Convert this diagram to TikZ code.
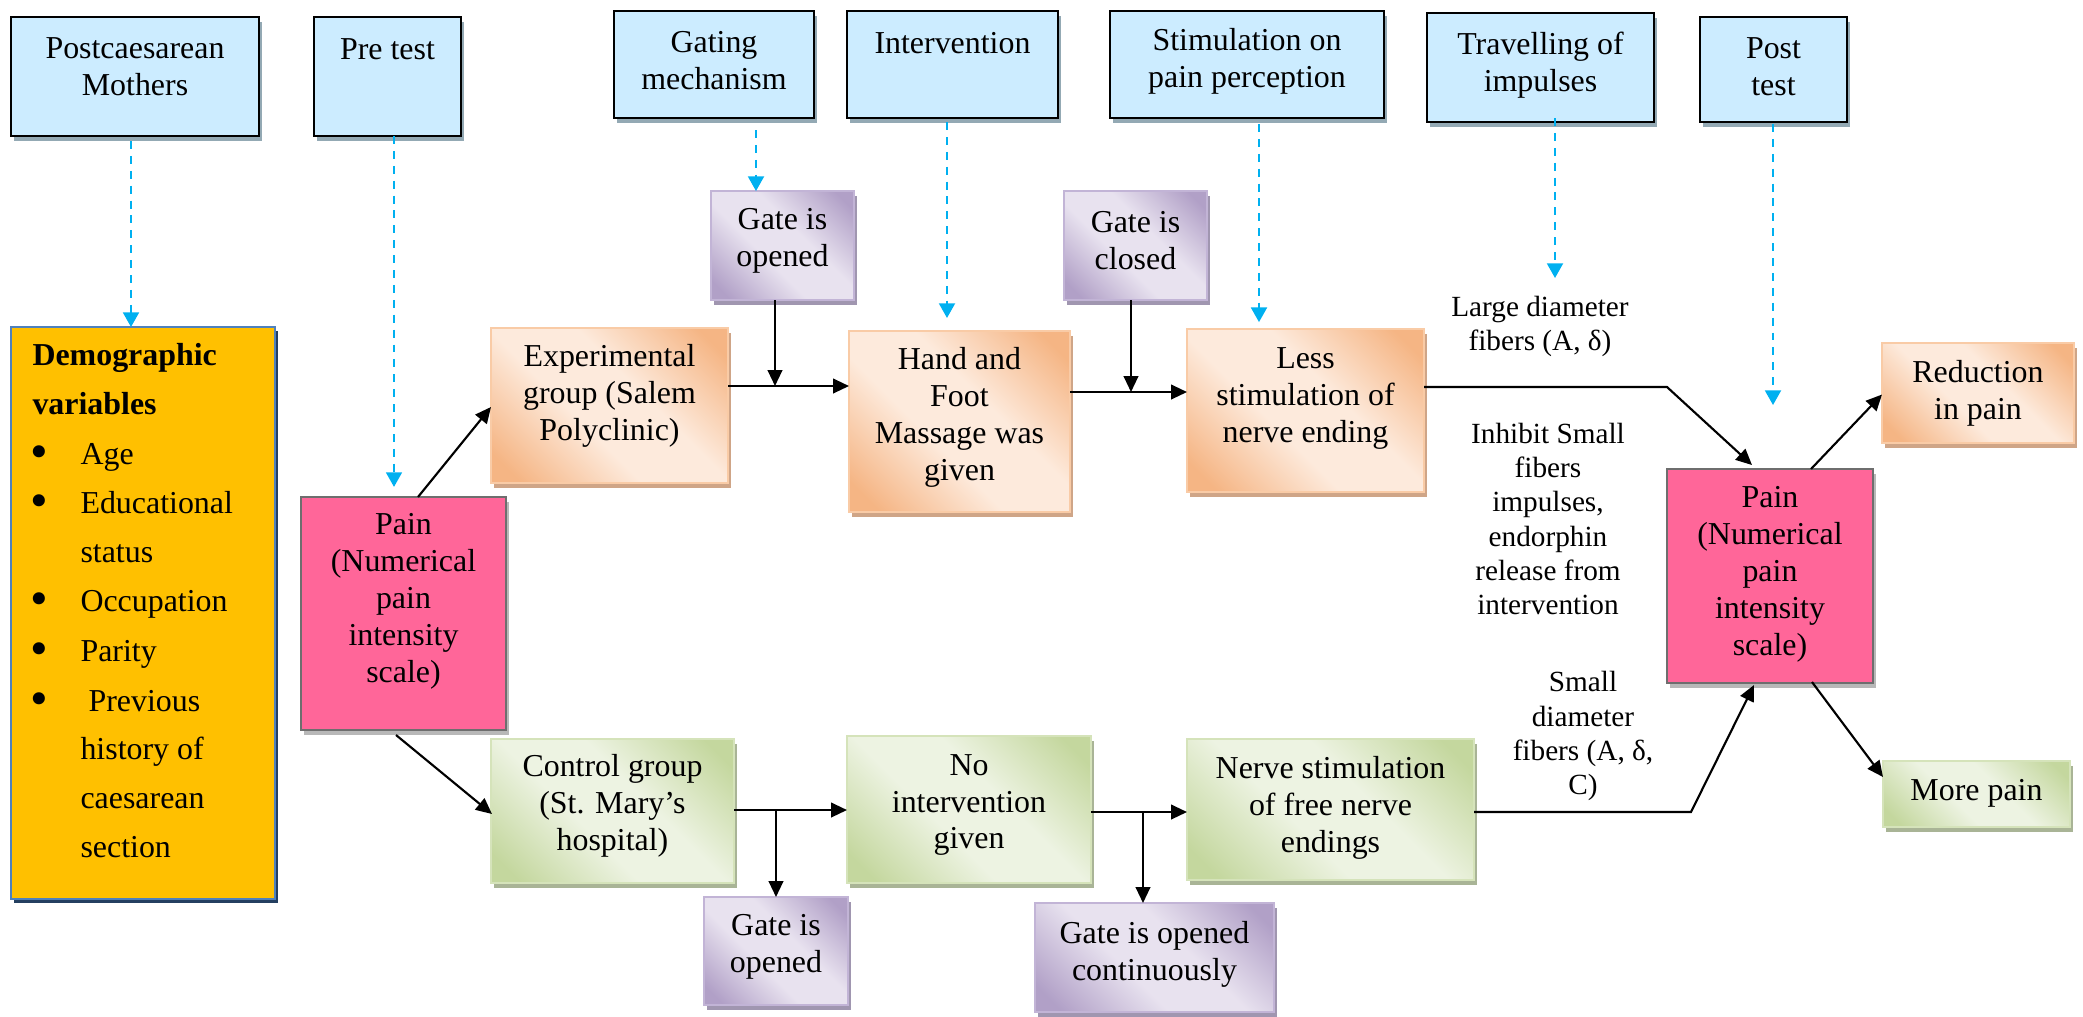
\documentclass[tikz,border=0pt]{standalone}
\usepackage{fontspec}
\setmainfont{Liberation Serif}
\usetikzlibrary{arrows.meta,shadows,calc}

\definecolor{bluefill}{HTML}{CCECFF}
\definecolor{blueshadow}{HTML}{93A9B4}
\definecolor{orD}{HTML}{F5B584}
\definecolor{orL}{HTML}{FDEADC}
\definecolor{orB}{HTML}{F9CBA6}
\definecolor{orS}{HTML}{CFA587}
\definecolor{grD}{HTML}{C4D79E}
\definecolor{grL}{HTML}{EDF3E2}
\definecolor{grB}{HTML}{D5E3BA}
\definecolor{grS}{HTML}{A9B496}
\definecolor{puD}{HTML}{B1A0C7}
\definecolor{puL}{HTML}{E8E2EF}
\definecolor{puB}{HTML}{C2B4D6}
\definecolor{puS}{HTML}{A096B0}
\definecolor{pinkF}{HTML}{FF6699}
\definecolor{pinkB}{HTML}{6E6E6E}
\definecolor{pinkS}{HTML}{B8B8B8}
\definecolor{demoF}{HTML}{FFC000}
\definecolor{demoB}{HTML}{4F81BD}
\definecolor{demoS}{HTML}{243F60}
\definecolor{dashblue}{HTML}{00B0F0}

\pgfdeclarehorizontalshading{orsh}{100bp}{color(0bp)=(orD); color(20bp)=(orD); color(42bp)=(orL); color(58bp)=(orL); color(80bp)=(orD); color(100bp)=(orD)}
\pgfdeclarehorizontalshading{grsh}{100bp}{color(0bp)=(grD); color(20bp)=(grD); color(42bp)=(grL); color(58bp)=(grL); color(80bp)=(grD); color(100bp)=(grD)}
\pgfdeclarehorizontalshading{push}{100bp}{color(0bp)=(puD); color(20bp)=(puD); color(42bp)=(puL); color(58bp)=(puL); color(80bp)=(puD); color(100bp)=(puD)}

\newcommand\mkbox[8]{%
  \pgfmathsetmacro\bxc{(#3+#5)/2}%
  \pgfmathsetmacro\byc{(#4+#6)/2}%
  \pgfmathsetmacro\bw{(#5-#3)*0.376}%
  \pgfmathsetmacro\bh{(#6-#4)*0.376}%
  \node[#2, minimum width=\bw pt, minimum height=\bh pt] (#1) at (\bxc,\byc) {};%
  \node[txt] (#1-t) at (\bxc,#7) {#8};}

\tikzset{
  base/.style={rectangle, inner sep=0pt, outer sep=0pt},
  bluebox/.style={base, draw=black, line width=1.1pt, fill=bluefill,
    general shadow={fill=blueshadow, shadow xshift=1.3pt, shadow yshift=-1.9pt}},
  orbox/.style={base, draw=orB, line width=0.8pt, shade, shading=orsh, shading angle=45,
    general shadow={fill=orS, shadow xshift=1.2pt, shadow yshift=-1.8pt}},
  grbox/.style={base, draw=grB, line width=0.8pt, shade, shading=grsh, shading angle=45,
    general shadow={fill=grS, shadow xshift=1.2pt, shadow yshift=-1.8pt}},
  pubox/.style={base, draw=puB, line width=0.8pt, shade, shading=push, shading angle=45,
    general shadow={fill=puS, shadow xshift=1.2pt, shadow yshift=-1.8pt}},
  pkbox/.style={base, draw=pinkB, line width=0.9pt, fill=pinkF,
    general shadow={fill=pinkS, shadow xshift=1.2pt, shadow yshift=-1.8pt}},
  demobox/.style={base, draw=demoB, line width=0.9pt, fill=demoF,
    general shadow={fill=demoS, shadow xshift=1.2pt, shadow yshift=-1.6pt}},
  txt/.style={align=center, font=\fontsize{12}{13.9}\selectfont, inner sep=0pt},
  lbl/.style={align=center, font=\fontsize{11}{12.8}\selectfont, inner sep=0pt},
  dtxt/.style={font=\fontsize{12}{14}\selectfont, inner sep=0pt, anchor=base west},
  dbul/.style={font=\fontsize{19}{20}\selectfont, inner sep=0pt, anchor=center},
  arr/.style={-{Triangle[length=6pt,width=5.5pt]}, line width=0.8pt, black},
  darr/.style={-{Triangle[length=5.5pt,width=6pt]}, line width=0.75pt, dashblue,
    dash pattern=on 3pt off 2.6pt},
}

\begin{document}
\begin{tikzpicture}[x=0.376pt, y=-0.376pt]
\useasboundingbox (0,0) rectangle (2083,1016);

% top row
\mkbox{pm}{bluebox}{11}{17}{259}{136}{66.5}{Postcaesarean\\Mothers}
\mkbox{pre}{bluebox}{314}{17}{461}{136}{49}{Pre test}
\mkbox{gat}{bluebox}{614}{11}{814}{118}{61}{Gating\\mechanism}
\mkbox{intv}{bluebox}{847}{11}{1058}{118}{43}{Intervention}
\mkbox{stim}{bluebox}{1110}{11}{1384}{118}{61}{Stimulation on\\pain perception}
\mkbox{trav}{bluebox}{1427}{13}{1654}{122}{65}{Travelling of\\impulses}
\mkbox{post}{bluebox}{1700}{17}{1847}{122}{67}{Post\\test}

% purple
\mkbox{g1}{pubox}{711}{191}{854}{300}{241}{Gate is\\opened}
\mkbox{g2}{pubox}{1064}{191}{1207}{300}{241}{Gate is\\closed}
\mkbox{g3}{pubox}{704}{897}{848}{1005}{947}{Gate is\\opened}
\mkbox{g4}{pubox}{1035}{903}{1274}{1012}{954}{Gate is opened\\continuously}

% orange
\mkbox{exp}{orbox}{491}{328}{728}{483}{395.5}{Experimental\\group (Salem\\Polyclinic)}
\mkbox{hand}{orbox}{849}{331}{1070}{512}{417.5}{Hand and\\Foot\\Massage was\\given}
\mkbox{less}{orbox}{1187}{329}{1424}{492}{398.5}{Less\\stimulation of\\nerve ending}
\mkbox{red}{orbox}{1882}{343}{2074}{443}{393.5}{Reduction\\in pain}

% pink
\mkbox{pl}{pkbox}{301}{497}{506}{730}{601.5}{Pain\\(Numerical\\pain\\intensity\\scale)}
\mkbox{pr}{pkbox}{1667}{469}{1873}{683}{574}{Pain\\(Numerical\\pain\\intensity\\scale)}

% green
\mkbox{ctl}{grbox}{491}{739}{734}{883}{806}{Control group\\(St. Mary’s\\hospital)}
\mkbox{noi}{grbox}{847}{736}{1091}{883}{805}{No\\intervention\\given}
\mkbox{nrv}{grbox}{1187}{739}{1474}{880}{807.5}{Nerve stimulation\\of free nerve\\endings}
\mkbox{more}{grbox}{1883}{761}{2070}{827}{793}{More pain}

% demographic
\node[demobox, minimum width={264*0.376pt}, minimum height={572*0.376pt}] (demo) at (143,613) {};
\node[dtxt] (dm1) at (32,365) {\textbf{Demographic}};
\node[dtxt] (dm2) at (32,414) {\textbf{variables}};
\node[dbul] (b1) at (39,457) {•};
\node[dtxt] (i1) at (80,464) {Age};
\node[dbul] (b2) at (39,506) {•};
\node[dtxt] (i2) at (80,513) {Educational};
\node[dtxt] (i2b) at (80,562) {status};
\node[dbul] (b3) at (39,604) {•};
\node[dtxt] (i3) at (80,611) {Occupation};
\node[dbul] (b4) at (39,654) {•};
\node[dtxt] (i4) at (80,661) {Parity};
\node[dbul] (b5) at (39,704) {•};
\node[dtxt] (i5) at (88,711) {Previous};
\node[dtxt] (i5b) at (80,759) {history of};
\node[dtxt] (i5c) at (80,808) {caesarean};
\node[dtxt] (i5d) at (80,857) {section};

% labels
\node[lbl] (l1) at (1540,326) {Large diameter\\fibers (A, δ)};
\node[lbl] (l2) at (1548,519) {Inhibit Small\\fibers\\impulses,\\endorphin\\release from\\intervention};
\node[lbl] (l3) at (1583,736) {Small\\diameter\\fibers (A, δ,\\C)};

% dashed arrows
\coordinate (d1) at ($(pm.south)+(-4,5)$);
\draw[darr] (d1) -- (d1 |- demo.north);
\coordinate (d2) at ($(pre.south)+(6.5,0)$);
\draw[darr, shorten >=3.8pt] (d2) -- (d2 |- pl.north);
\coordinate (d3) at ($(gat.south)+(42,12)$);
\draw[darr] (d3) -- (d3 |- g1.north);
\coordinate (d4) at ($(intv.south)+(-5.5,4)$);
\draw[darr, shorten >=4.9pt] (d4) -- (d4 |- hand.north);
\coordinate (d5) at ($(stim.south)+(12,6)$);
\draw[darr, shorten >=2.6pt] (d5) -- (d5 |- less.north);
\coordinate (d6) at ($(trav.south)+(14.5,-4)$);
\coordinate (d6e) at ($(d6)+(0,160)$);
\draw[darr] (d6) -- (d6e);
\coordinate (d7) at ($(post.south)+(-0.5,2)$);
\coordinate (d7e) at ($(d7)+(0,281)$);
\draw[darr] (d7) -- (d7e);

% black connectors
\draw[arr] ($(pl.north west)+(117,0)$) -- ($(exp.west)+(0,1.5)$);
\draw[arr] ($(pl.south west)+(95,5)$) -- ($(ctl.west)+(1,3)$);

\coordinate (e1) at ($(exp.east)+(0,-19.5)$);
\draw[arr] (e1) -- (e1 -| hand.west);
\coordinate (g1b) at ($(g1.south)+(-7.5,0)$);
\draw[arr] (g1b) -- (g1b |- e1);

\coordinate (e2) at ($(hand.east)+(0,-29.5)$);
\draw[arr] (e2) -- (e2 -| less.west);
\coordinate (g2b) at ($(g2.south)+(-4.5,0)$);
\draw[arr] (g2b) -- (g2b |- e2);

\coordinate (e3) at ($(less.east)+(0,-23.5)$);
\draw[arr] (e3) -- (e3 -| pr.west) -- ($(pr.north west)+(85,-4)$);

\draw[arr] ($(pr.north west)+(144,0)$) -- ($(red.west)+(0,1.5)$);
\draw[arr] ($(pr.south west)+(145,-1)$) -- ($(more.west)+(0,-17)$);

\coordinate (e4) at ($(nrv.east)+(0,2.5)$);
\coordinate (e5) at ($(e4 -| pr.west)+(24,0)$);
\draw[arr] (e4) -- (e5) -- ($(pr.south west)+(87,2)$);

\coordinate (e6) at ($(ctl.east)+(0,-1)$);
\draw[arr] (e6) -- (e6 -| noi.west);
\draw[arr] (g3.north |- e6) -- (g3.north);

\coordinate (e7) at ($(noi.east)+(0,2.5)$);
\draw[arr] (e7) -- (e7 -| nrv.west);
\coordinate (g4t) at ($(g4.north)+(-11.5,0)$);
\draw[arr] (g4t |- e7) -- (g4t);
\end{tikzpicture}
\end{document}
